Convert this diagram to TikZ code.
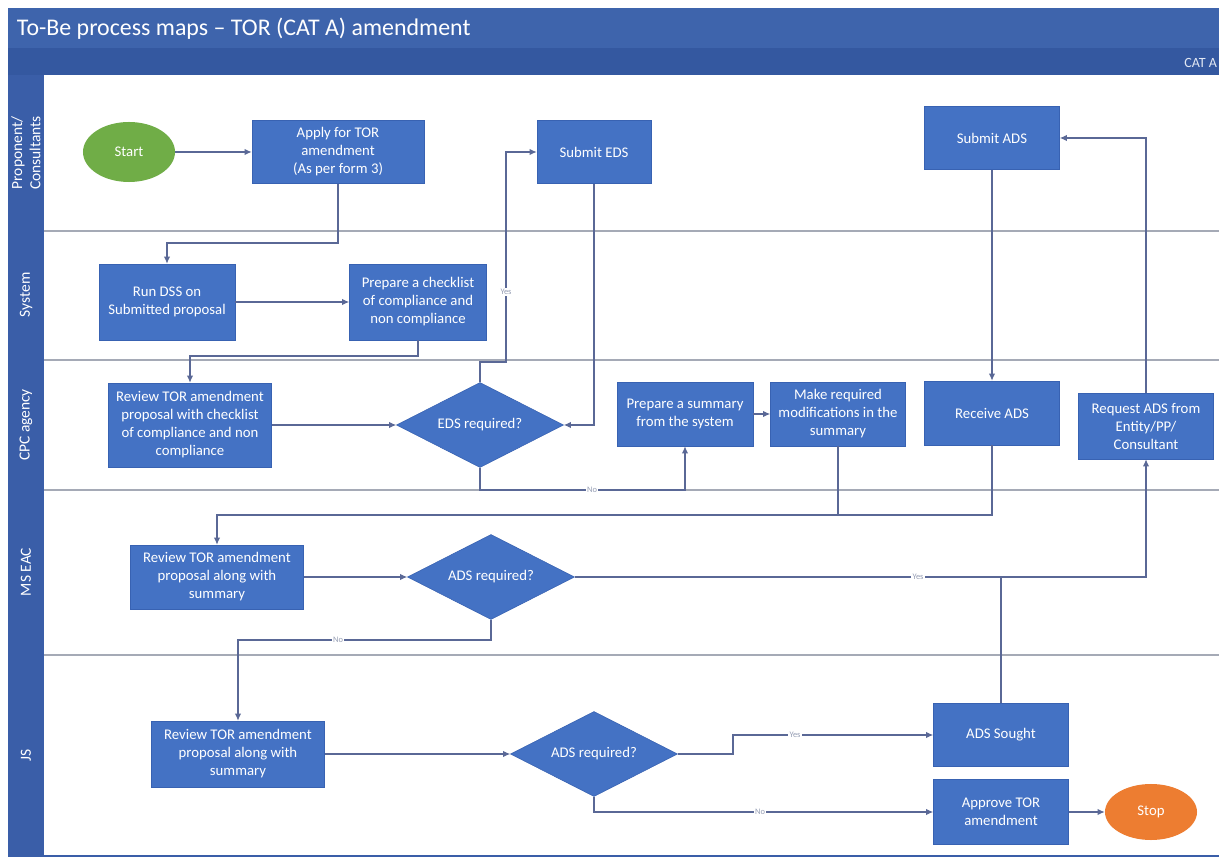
\documentclass[tikz,border=0pt]{standalone}
\usepackage{fontspec}
\setmainfont{Carlito}
\usepackage{xcolor}
\usepackage{tikz}
\usetikzlibrary{shapes.geometric, arrows.meta}
\definecolor{headBlue}{RGB}{62, 100, 172}
\definecolor{bandBlue}{RGB}{52, 88, 160}
\definecolor{laneBlue}{RGB}{58, 94, 168}
\definecolor{boxBlue}{RGB}{68, 114, 196}
\definecolor{boxEdge}{RGB}{56, 98, 178}
\definecolor{lineBlue}{RGB}{90, 104, 150}
\definecolor{sepGray}{RGB}{165, 170, 182}
\definecolor{startGreen}{RGB}{112, 173, 71}
\definecolor{stopOrange}{RGB}{237, 125, 49}
\definecolor{lblGray}{RGB}{150, 158, 180}

\begin{document}
\begin{tikzpicture}[x=0.025cm, y=-0.025cm,
  box/.style={rectangle, draw=boxEdge, fill=boxBlue, text=white,
    align=center, inner sep=2pt, font=\fontsize{10.5}{12.8}\selectfont},
  dec/.style={diamond, aspect=2, draw=boxEdge, fill=boxBlue, text=white,
    inner sep=0pt, minimum width=4.175cm, minimum height=2.125cm,
    font=\fontsize{10.5}{12.8}\selectfont},
  term/.style={ellipse, minimum width=2.3cm, minimum height=1.5cm,
    text=white, font=\fontsize{10.5}{12.8}\selectfont},
  arr/.style={-{Latex[length=5pt, width=4.5pt]}, line width=0.8pt,
    draw=lineBlue},
  link/.style={line width=0.8pt, draw=lineBlue},
  lbl/.style={font=\fontsize{6}{7}\selectfont, text=lblGray, fill=white,
    inner sep=1pt},
  lanename/.style={rotate=90, text=white, align=center,
    font=\fontsize{11}{13}\selectfont},
]
% frame and lanes
\fill[white] (0,0) rectangle (1219,859);
\useasboundingbox (0,0) rectangle (1219,859);
\fill[headBlue] (8,8) rectangle (1219,48);
\fill[bandBlue] (8,48) rectangle (1219,75);
\fill[laneBlue] (8,75) rectangle (44,857);
\draw[laneBlue, line width=1pt] (44,856) -- (1219,856);
\foreach \y in {231, 360, 490, 655}
  \draw[sepGray, line width=1.4pt] (44,\y) -- (1219,\y);

\node[anchor=west, text=white, font=\fontsize{17}{20}\selectfont] (title)
  at (12,29) {To-Be process maps – TOR (CAT A) amendment};
\node[anchor=east, text=white!85!headBlue, font=\fontsize{10}{12}\selectfont]
  (cat) at (1222,63) {CAT A};

\node[lanename] (lanePC)  at (26,153) {Proponent/\\Consultants};
\node[lanename] (laneSys) at (26,295) {System};
\node[lanename] (laneCPC) at (26,425) {CPC agency};
\node[lanename] (laneMS)  at (26,572) {MS EAC};
\node[lanename] (laneJS)  at (26,755) {JS};

% steps
\node[term, fill=startGreen] (start) at (129,152) {Start};
\node[box, minimum width=4.3cm, minimum height=1.575cm] (apply) at (338,152)
  {Apply for TOR\\amendment\\(As per form 3)};
\node[box, minimum width=2.85cm, minimum height=1.575cm] (subeds) at (594,152)
  {Submit EDS};
\node[box, minimum width=3.375cm, minimum height=1.575cm] (subads) at (992,138)
  {Submit ADS};

\node[box, minimum width=3.4cm, minimum height=1.9cm] (dss) at (167,302)
  {Run DSS on\\Submitted proposal};
\node[box, minimum width=3.425cm, minimum height=1.9cm] (check) at (418,302)
  {Prepare a checklist\\of compliance and\\non compliance};

\node[box, minimum width=4.075cm, minimum height=2.1cm] (revcpc) at (190,425)
  {Review TOR amendment\\proposal with checklist\\of compliance and non\\compliance};
\node[dec] (eds) at (480,425) {EDS required?};
\node[box, minimum width=3.4cm, minimum height=1.6cm] (summ) at (685,414)
  {Prepare a summary\\from the system};
\node[box, minimum width=3.375cm, minimum height=1.6cm] (modif) at (838,414)
  {Make required\\modifications in the\\summary};
\node[box, minimum width=3.375cm, minimum height=1.6cm] (recv) at (992,413)
  {Receive ADS};
\node[box, minimum width=3.375cm, minimum height=1.65cm] (reqads) at (1146,426)
  {Request ADS from\\Entity/PP/\\Consultant};

\node[box, minimum width=4.325cm, minimum height=1.6cm] (revms) at (217,577)
  {Review TOR amendment\\proposal along with\\summary};
\node[dec] (adsms) at (491,577) {ADS required?};

\node[box, minimum width=4.325cm, minimum height=1.65cm] (revjs) at (238,754)
  {Review TOR amendment\\proposal along with\\summary};
\node[dec] (adsjs) at (594,754) {ADS required?};
\node[box, minimum width=3.375cm, minimum height=1.575cm] (sought) at (1001,735)
  {ADS Sought};
\node[box, minimum width=3.375cm, minimum height=1.625cm] (approve) at (1001,812)
  {Approve TOR\\amendment};
\node[term, fill=stopOrange, minimum height=1.4cm] (stop) at (1151,812) {Stop};

% flows
\draw[arr] (start) -- (apply);
\draw[arr] (apply.south) -- (apply.south |- 0,243) -| (dss.north);
\draw[arr] (dss) -- (check);
\draw[arr] (check.south) -- (check.south |- 0,356) -| (revcpc.north);
\draw[arr] (revcpc) -- (eds);
\draw[arr] (eds.north) -- (eds.north |- 0,362) -- (506,362) |- (subeds.west);
\draw[arr] (subeds.south) |- (eds.east);
\draw[arr] (eds.south) -- (eds.south |- 0,490) -| (summ.south);
\draw[arr] (summ) -- (modif);
\draw[arr] (modif.south) -- (modif.south |- 0,515) -| (revms.north);
\draw[link] (recv.south) -- (recv.south |- 0,515) -- (modif.south |- 0,515);
\draw[arr] (subads) -- (recv);
\draw[arr] (reqads.north) |- (subads.east);
\draw[arr] (revms) -- (adsms);
\draw[arr] (adsms.east) -| (reqads.south);
\draw[arr] (adsms.south) -- (adsms.south |- 0,640) -| (revjs.north);
\draw[arr] (revjs) -- (adsjs);
\draw[arr] (adsjs.east) -- (adsjs.east -| 733,0) |- (sought.west);
\draw[arr] (adsjs.south) |- (approve.west);
\draw[link] (sought.north) -- (sought.north |- adsms.east);
\draw[arr] (approve) -- (stop);

% branch labels
\node[lbl] (yesEDS) at (506,292) {Yes};
\node[lbl] (noEDS)  at (592,490) {No};
\node[lbl] (yesMS)  at (918,577) {Yes};
\node[lbl] (noMS)   at (338,640) {No};
\node[lbl] (yesJS)  at (795,735) {Yes};
\node[lbl] (noJS)   at (760,812) {No};
\end{tikzpicture}
\end{document}
